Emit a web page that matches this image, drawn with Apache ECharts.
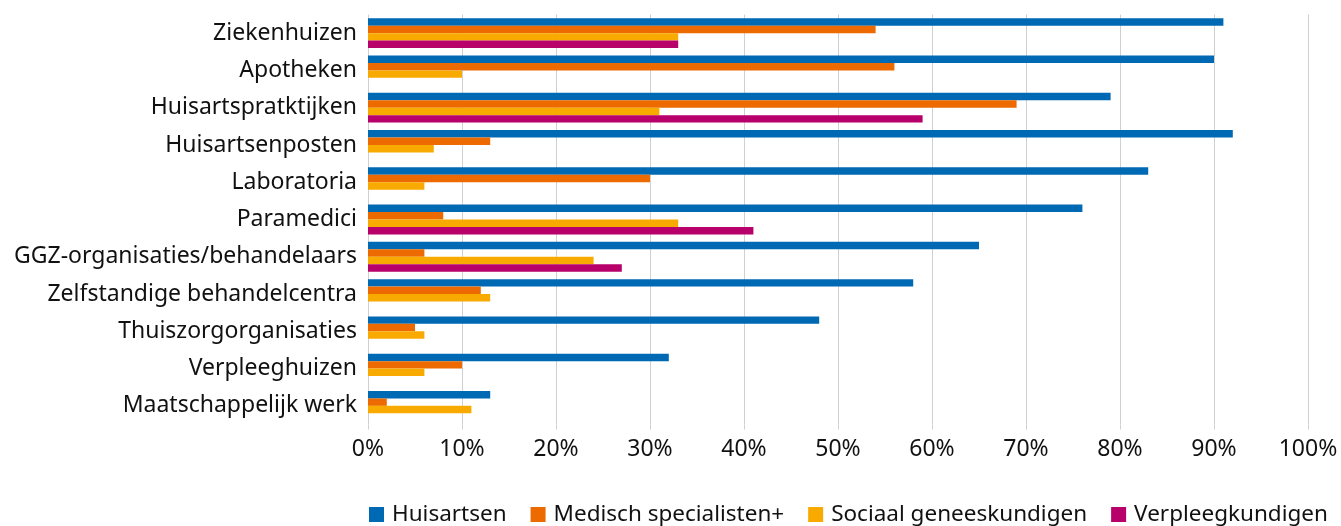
<!DOCTYPE html>
<html>
<head>
<meta charset="utf-8">
<script src="https://cdn.jsdelivr.net/npm/echarts@6/dist/echarts.min.js"></script>
<style>
  html, body { margin: 0; padding: 0; background: #fff; }
  #chart { width: 1341px; height: 526px; }
</style>
</head>
<body>
<div id="chart"></div>
<script>
// categorieën (van boven naar onder)
var categories = [
  'Ziekenhuizen',
  'Apotheken',
  'Huisartspratktijken',
  'Huisartsenposten',
  'Laboratoria',
  'Paramedici',
  'GGZ-organisaties/behandelaars',
  'Zelfstandige behandelcentra',
  'Thuiszorgorganisaties',
  'Verpleeghuizen',
  'Maatschappelijk werk'
]
var seriesNames = ['Huisartsen', 'Medisch specialisten+', 'Sociaal geneeskundigen', 'Verpleegkundigen']
// percentages per beroepsgroep
var huisartsen = [91, 90, 79, 92, 83, 76, 65, 58, 48, 32, 13]
var medischSpecialisten = [54, 56, 69, 13, 30, 8, 6, 12, 5, 10, 2]
var sociaalGeneeskundigen = [33, 10, 31, 7, 6, 33, 24, 13, 6, 6, 11]
var verpleegkundigen = [33, null, 59, null, null, 41, 27, null, null, null, null]
var xTicks = [0, 10, 20, 30, 40, 50, 60, 70, 80, 90, 100]

var colors = ['#0069B4', '#EC6A00', '#F8AA00', '#B7006A']
var font = 'Noto Sans'
var textColor = '#111'

var chart = echarts.init(document.getElementById('chart'))
var values = [huisartsen, medischSpecialisten, sociaalGeneeskundigen, verpleegkundigen]
var series = seriesNames.map(function(name, i) {
  return {
    name: name,
    type: 'bar',
    data: values[i],
    barGap: 0,
    barCategoryGap: '20%',
    itemStyle: { color: colors[i] },
    animation: false
  }
})

chart.setOption({
  backgroundColor: '#fff',
  animation: false,
  grid: { left: 368, right: 33, top: 14.5, bottom: 101.5, containLabel: false },
  legend: {
    data: seriesNames,
    left: 369,
    bottom: 0,
    padding: 0,
    icon: 'rect',
    itemWidth: 15,
    itemHeight: 15,
    itemGap: 24,
    textStyle: { fontFamily: font, fontSize: 22.5, color: textColor, padding: [0, 0, 0, 3] }
  },
  xAxis: {
    type: 'value',
    min: xTicks[0],
    max: xTicks[xTicks.length - 1],
    interval: 10,
    axisLine: { show: false },
    axisTick: { show: true, length: 5, lineStyle: { color: '#d0d0d0', width: 1 } },
    splitLine: { show: true, lineStyle: { color: '#d0d0d0', width: 1 } },
    axisLabel: {
      margin: 13,
      fontFamily: font,
      fontSize: 23,
      color: textColor,
      formatter: '{value}%'
    }
  },
  yAxis: {
    type: 'category',
    data: categories,
    inverse: true,
    axisLine: { show: false },
    axisTick: { show: false },
    axisLabel: { margin: 11, fontFamily: font, fontSize: 23, color: textColor }
  },
  series: series
})
</script>
</body>
</html>
